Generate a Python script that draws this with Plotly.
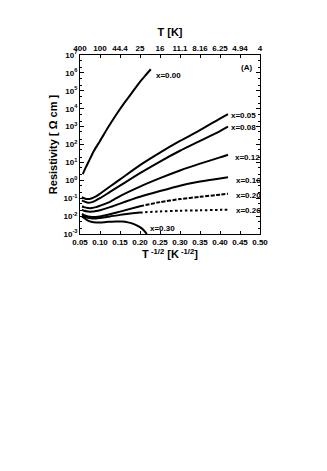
import math
import plotly.graph_objects as go

# T^-1/2 grid (K^-1/2) and resistivity (Ohm cm)
t_x000 = [0.057, 0.065, 0.075, 0.085, 0.10, 0.12, 0.14, 0.16, 0.18, 0.20, 0.215, 0.227]
r_x000 = [2.24, 5.62, 15.8, 44.7, 158, 891, 4470, 2.0e4, 7.9e4, 3.2e5, 7.9e5, 1.6e6]

t_grid = [0.055, 0.06, 0.07, 0.08, 0.09, 0.10, 0.125, 0.15, 0.20, 0.25, 0.30, 0.35, 0.40, 0.42]
r_x005 = [0.117, 0.100, 0.089, 0.100, 0.126, 0.178, 0.447, 1.12, 7.08, 35.5, 158, 631, 2820, 5010]
r_x008 = [0.0759, 0.0661, 0.0562, 0.0603, 0.0759, 0.100, 0.224, 0.501, 2.51, 11.2, 44.7, 158, 562, 1000]
r_x012 = [0.0355, 0.0316, 0.0282, 0.0282, 0.0316, 0.0380, 0.0631, 0.132, 0.447, 1.32, 3.55, 8.51, 19.1, 26.9]
r_x016 = [0.0229, 0.0200, 0.0182, 0.0178, 0.0191, 0.0214, 0.0316, 0.0501, 0.120, 0.251, 0.501, 0.851, 1.26, 1.48]
r_x020 = [0.0132, 0.0112, 0.00955, 0.00891, 0.00891, 0.00955, 0.0126, 0.0178, 0.0355, 0.0603, 0.0891, 0.120, 0.158, 0.178]
r_x026 = [0.0110, 0.00955, 0.00794, 0.00741, 0.00741, 0.00794, 0.00955, 0.0117, 0.0158, 0.0182, 0.0200, 0.0209, 0.0224, 0.0229]

t_x030 = [0.055, 0.06, 0.07, 0.08, 0.09, 0.10, 0.12, 0.14, 0.155, 0.17, 0.185, 0.20, 0.21, 0.217]
r_x030 = [0.00955, 0.00794, 0.00562, 0.00468, 0.00437, 0.00437, 0.00479, 0.00501, 0.00501, 0.00447, 0.00355, 0.00240, 0.00158, 0.00100]

# (name, x, y, index where the sparse/dotted part starts or None)
curves = [
    ("x=0.00", t_x000, r_x000, None, None),
    ("x=0.05", t_grid, r_x005, None, None),
    ("x=0.08", t_grid, r_x008, None, None),
    ("x=0.12", t_grid, r_x012, None, None),
    ("x=0.16", t_grid, r_x016, None, None),
    ("x=0.20", t_grid, r_x020, 8, "4px,1.5px"),
    ("x=0.26", t_grid, r_x026, 8, "2.5px,2.5px"),
    ("x=0.30", t_x030, r_x030, None, None),
]

# curve labels: (text, T^-1/2, resistivity)
label_text = ["x=0.00", "x=0.05", "x=0.08", "x=0.12", "x=0.16", "x=0.20", "x=0.26", "x=0.30"]
label_t = [0.235, 0.423, 0.422, 0.433, 0.435, 0.435, 0.435, 0.22]
label_r = [7.0e5, 4.3e3, 9.1e2, 19, 0.95, 0.138, 0.021, 0.002]

bottom_ticks = [0.05, 0.10, 0.15, 0.20, 0.25, 0.30, 0.35, 0.40, 0.45, 0.50]
top_ticktext = ["400", "100", "44.4", "25", "16", "11.1", "8.16", "6.25", "4.94", "4"]
y_exps = [-3, -2, -1, 0, 1, 2, 3, 4, 5, 6, 7]

fig = go.Figure()
for name, t, r, cut, dash in curves:
    if cut is None:
        fig.add_trace(go.Scatter(x=t, y=r, mode="lines", name=name,
                                 line=dict(color="black", width=2, shape="spline", smoothing=0.6)))
    else:
        fig.add_trace(go.Scatter(x=t[:cut + 1], y=r[:cut + 1], mode="lines", name=name,
                                 line=dict(color="black", width=2, shape="spline", smoothing=0.6)))
        fig.add_trace(go.Scatter(x=t[cut:], y=r[cut:], mode="lines", name=name,
                                 line=dict(color="black", width=2, shape="spline", smoothing=0.6,
                                           dash=dash)))

# dummy trace so the top axis is drawn
fig.add_trace(go.Scatter(x=[0.05], y=[1], xaxis="x2", mode="markers",
                         marker=dict(opacity=0), hoverinfo="skip"))

# annotation y on a log axis is given in log10 units
for txt, t, r in zip(label_text, label_t, label_r):
    fig.add_annotation(x=t, y=math.log10(r), yref="y", xref="x", text="<b>" + txt + "</b>",
                       showarrow=False, xanchor="left", yanchor="middle",
                       font=dict(size=8, color="black"))
fig.add_annotation(x=0.466, y=math.log10(2.0e6), text="<b>(A)</b>", showarrow=False,
                   font=dict(size=8, color="black"))

axis_font = dict(family="Liberation Sans, Arial", size=8, color="black")
title_font = dict(family="Liberation Sans, Arial", size=11, color="black")

fig.update_layout(
    width=327, height=471,
    margin=dict(l=72, r=75, t=47, b=245),
    paper_bgcolor="white", plot_bgcolor="white",
    showlegend=False,
    font=dict(family="Liberation Sans, Arial", color="black"),
    xaxis=dict(
        range=[0.05, 0.50], tickvals=bottom_ticks,
        ticktext=["<b>%.2f</b>" % v for v in bottom_ticks],
        showline=True, linecolor="black", linewidth=1, mirror=False,
        ticks="inside", ticklen=3, tickcolor="black", showgrid=False, zeroline=False,
        tickfont=axis_font,
        title=dict(text="<b>T<sup> -1/2</sup> [K<sup> -1/2</sup>]</b>", font=title_font, standoff=4),
    ),
    xaxis2=dict(
        overlaying="x", side="top", range=[0.05, 0.50], tickvals=bottom_ticks,
        ticktext=["<b>" + s + "</b>" for s in top_ticktext],
        showline=True, linecolor="black", linewidth=1,
        ticks="inside", ticklen=3, tickcolor="black", showgrid=False, zeroline=False,
        tickfont=axis_font,
        title=dict(text="<b>T [K]</b>", font=title_font, standoff=4),
    ),
    yaxis=dict(
        type="log", range=[-3, 7],
        tickvals=[10 ** e for e in y_exps],
        ticktext=["<b>10<sup>%d</sup></b>" % e for e in y_exps],
        showline=True, linecolor="black", linewidth=1, mirror="ticks",
        ticks="inside", ticklen=4, tickcolor="black", showgrid=False, zeroline=False,
        minor=dict(ticks="inside", ticklen=2, tickcolor="black", showgrid=False),
        tickfont=axis_font,
        title=dict(text="<b>Resistivity [ \u03a9 cm ]</b>", font=title_font, standoff=3),
    ),
)

fig.write_html("out.html")
